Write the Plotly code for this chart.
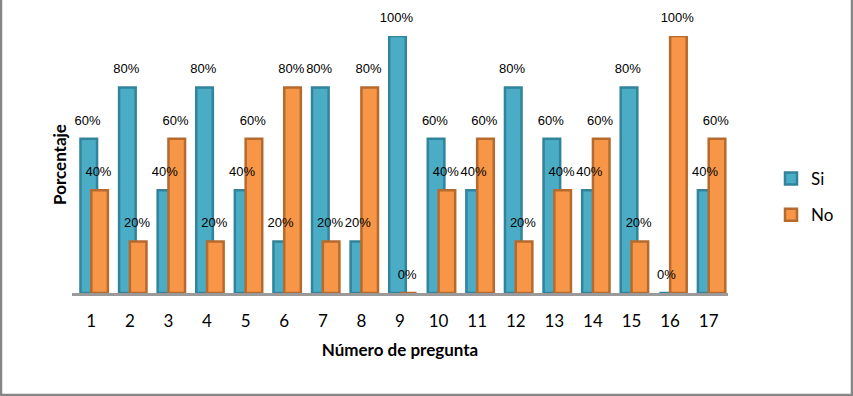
import plotly.graph_objects as go

preguntas = list(range(1, 18))
etiquetas = [str(i) for i in preguntas]
si = [60, 80, 40, 80, 40, 20, 80, 20, 100, 60, 40, 80, 60, 40, 80, 0, 40]
no = [40, 20, 60, 20, 60, 80, 20, 80, 0, 40, 60, 20, 40, 60, 20, 100, 60]

L, R, T, B = 72, 125, 36, 103
W, H = 853, 396
pw, ph = W - L - R, H - T - B

BW = 0.43
OFF_SI, OFF_NO = -0.28, 0.0

fig = go.Figure()
fig.add_trace(go.Bar(
    x=preguntas, y=si, name="Si", legendgroup="si",
    marker=dict(color="#4BACC6", line=dict(color="#31849B", width=2.5)),
    width=BW, offset=OFF_SI,
))
fig.add_trace(go.Bar(
    x=preguntas, y=no, name="No", legendgroup="no",
    marker=dict(color="#F79646", line=dict(color="#B66A2E", width=2.5)),
    width=BW, offset=OFF_NO,
))
for vals, off, grp in ((si, OFF_SI, "si"), (no, OFF_NO, "no")):
    fig.add_trace(go.Scatter(
        x=[p + off + BW / 2 - 0.03 for p in preguntas], y=vals,
        mode="markers+text", text=[f"{v}%" for v in vals], textposition="top center",
        marker=dict(size=16, opacity=0),
        textfont=dict(family="Arial", size=13, color="black"),
        showlegend=False, hoverinfo="skip", cliponaxis=False, legendgroup=grp,
    ))

fig.update_layout(
    width=W, height=H,
    barmode="overlay",
    paper_bgcolor="white", plot_bgcolor="white",
    margin=dict(l=L, r=R, t=T, b=B, autoexpand=False),
    showlegend=True,
    legend=dict(x=(771 - L) / pw, y=(293 - 197) / ph, xanchor="left", yanchor="middle",
                font=dict(family="Lato", size=17, color="black"),
                itemwidth=30, tracegroupgap=11, traceorder="grouped",
                bgcolor="rgba(0,0,0,0)"),
    font=dict(family="Lato"),
    shapes=[dict(type="rect", xref="paper", yref="paper",
                 x0=(1 - L) / pw, x1=(W - 1 - L) / pw, y0=-(B - 1) / ph, y1=(H - T - 1) / ph,
                 line=dict(color="#868686", width=2.5), fillcolor="rgba(0,0,0,0)")],
)
fig.update_xaxes(
    range=[0.5, 17.5], automargin=False,
    tickvals=preguntas, ticktext=etiquetas,
    showgrid=False, zeroline=False,
    showline=True, linecolor="#9A9A9A", linewidth=3,
    ticks="", tickfont=dict(family="Lato", size=17, color="black"),
    ticklabelstandoff=11,
    title=dict(text="<b>Número de pregunta</b>", font=dict(family="Lato", size=17, color="black"), standoff=14),
)
fig.update_yaxes(
    range=[0, 100], showgrid=False, zeroline=False, showticklabels=False,
    showline=False, automargin=False,
    title=dict(text="<b>Porcentaje</b>", font=dict(family="Lato", size=17, color="black"), standoff=0),
)

fig.write_html("out.html", config={"displayModeBar": False},
               post_script="document.body.style.margin='0';")
